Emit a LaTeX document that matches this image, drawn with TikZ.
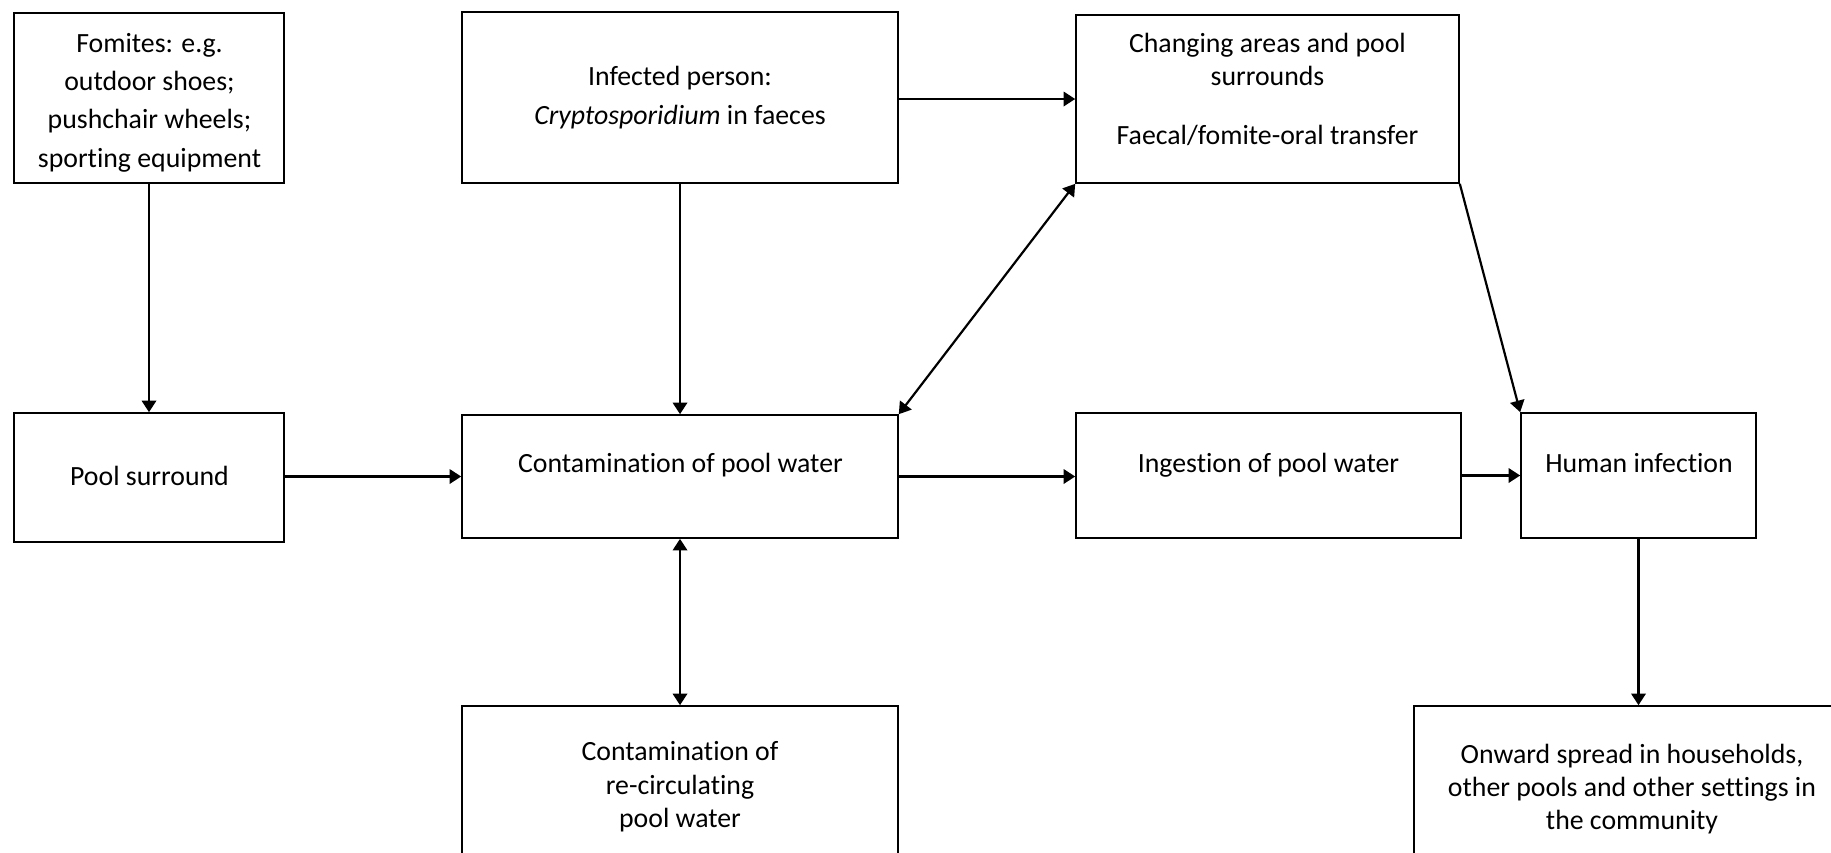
\documentclass[tikz,border=0pt]{standalone}
\usepackage{fontspec}
\setmainfont{Carlito}[Ligatures={NoCommon}]
\usetikzlibrary{arrows.meta}
\newcommand\tstrut{\rule{0pt}{14pt}}
\tikzset{
  box/.style={draw=black, line width=0.8pt, rectangle, inner sep=0pt},
  txt/.style={anchor=north, inner sep=0pt, align=center, text=black},
  arr/.style={line width=1.1pt, -{Triangle[length=5.8pt,width=7.2pt]}},
  darr/.style={line width=1.1pt, {Triangle[length=5.8pt,width=7.2pt]}-{Triangle[length=5.8pt,width=7.2pt]}}
}
\begin{document}
\begin{tikzpicture}[x=0.5pt,y=-0.5pt]
\useasboundingbox (0,0) rectangle (1831,852);
\fill[white] (0,0) rectangle (1831,852);
\clip (0,0) rectangle (1831,852);
% boxes
\node[box, minimum width=135pt, minimum height=85pt] (fom) at (149,98) {};
\node[box, minimum width=218pt, minimum height=85.5pt] (inf) at (680,97.5) {};
\node[box, minimum width=191.5pt, minimum height=84pt] (chg) at (1267.5,99) {};
\node[box, minimum width=135pt, minimum height=64.5pt] (pool) at (149,477.5) {};
\node[box, minimum width=218pt, minimum height=61.5pt] (cont) at (680,476.5) {};
\node[box, minimum width=192.5pt, minimum height=62.5pt] (ing) at (1268.5,475.5) {};
\node[box, minimum width=117.5pt, minimum height=62.5pt] (hum) at (1638.5,475.5) {};
\node[box, minimum width=218pt, minimum height=97pt] (rec) at (680,803) {};
\node[box, minimum width=221pt, minimum height=97pt] (onw) at (1635,803) {};
% texts
\node[txt, font=\fontsize{13.9}{19.1}\selectfont] (tfom) at (149.5,24)
  {\tstrut Fomites: e.g.\\outdoor shoes;\\pushchair wheels;\\sporting equipment};
\node[txt, font=\fontsize{13.9}{19.5}\selectfont] (tinf) at (680,57)
  {\tstrut Infected person:\\\textit{Cryptosporidium} in faeces};
\node[txt, font=\fontsize{13.9}{16.5}\selectfont] (tchg) at (1267.5,24)
  {\tstrut Changing areas and pool\\surrounds\\[13pt]Faecal/fomite-oral transfer};
\node[txt, font=\fontsize{13.9}{17}\selectfont] (tpool) at (149.5,457) {\tstrut Pool surround};
\node[txt, font=\fontsize{13.9}{17}\selectfont] (tcont) at (680.5,444) {\tstrut Contamination of pool water};
\node[txt, font=\fontsize{13.9}{17}\selectfont] (ting) at (1268.5,444) {\tstrut Ingestion of pool water};
\node[txt, font=\fontsize{13.9}{17}\selectfont] (thum) at (1639,444) {\tstrut Human infection};
\node[txt, font=\fontsize{13.9}{16.8}\selectfont] (trec) at (680,732)
  {\tstrut Contamination of\\re-circulating\\pool water};
\node[txt, font=\fontsize{13.9}{16.4}\selectfont] (tonw) at (1632,735)
  {\tstrut Onward spread in households,\\other pools and other settings in\\the community};
% connectors
\draw[arr] (fom.south) -- (pool.north);
\draw[arr] (inf.south) -- (cont.north);
\draw[arr] (inf.east |- chg.west) -- (chg.west);
\draw[arr] (cont.west -| pool.east) -- (cont.west);
\draw[arr] (cont.east) -- (cont.east -| ing.west);
\draw[arr] (ing.east) -- (hum.west);
\draw[arr] (chg.south east) -- (hum.north west);
\draw[darr] (cont.north east) -- (chg.south west);
\draw[darr] (cont.south) -- (rec.north);
\draw[arr] (hum.south) -- (hum.south |- onw.north);
\end{tikzpicture}
\end{document}
